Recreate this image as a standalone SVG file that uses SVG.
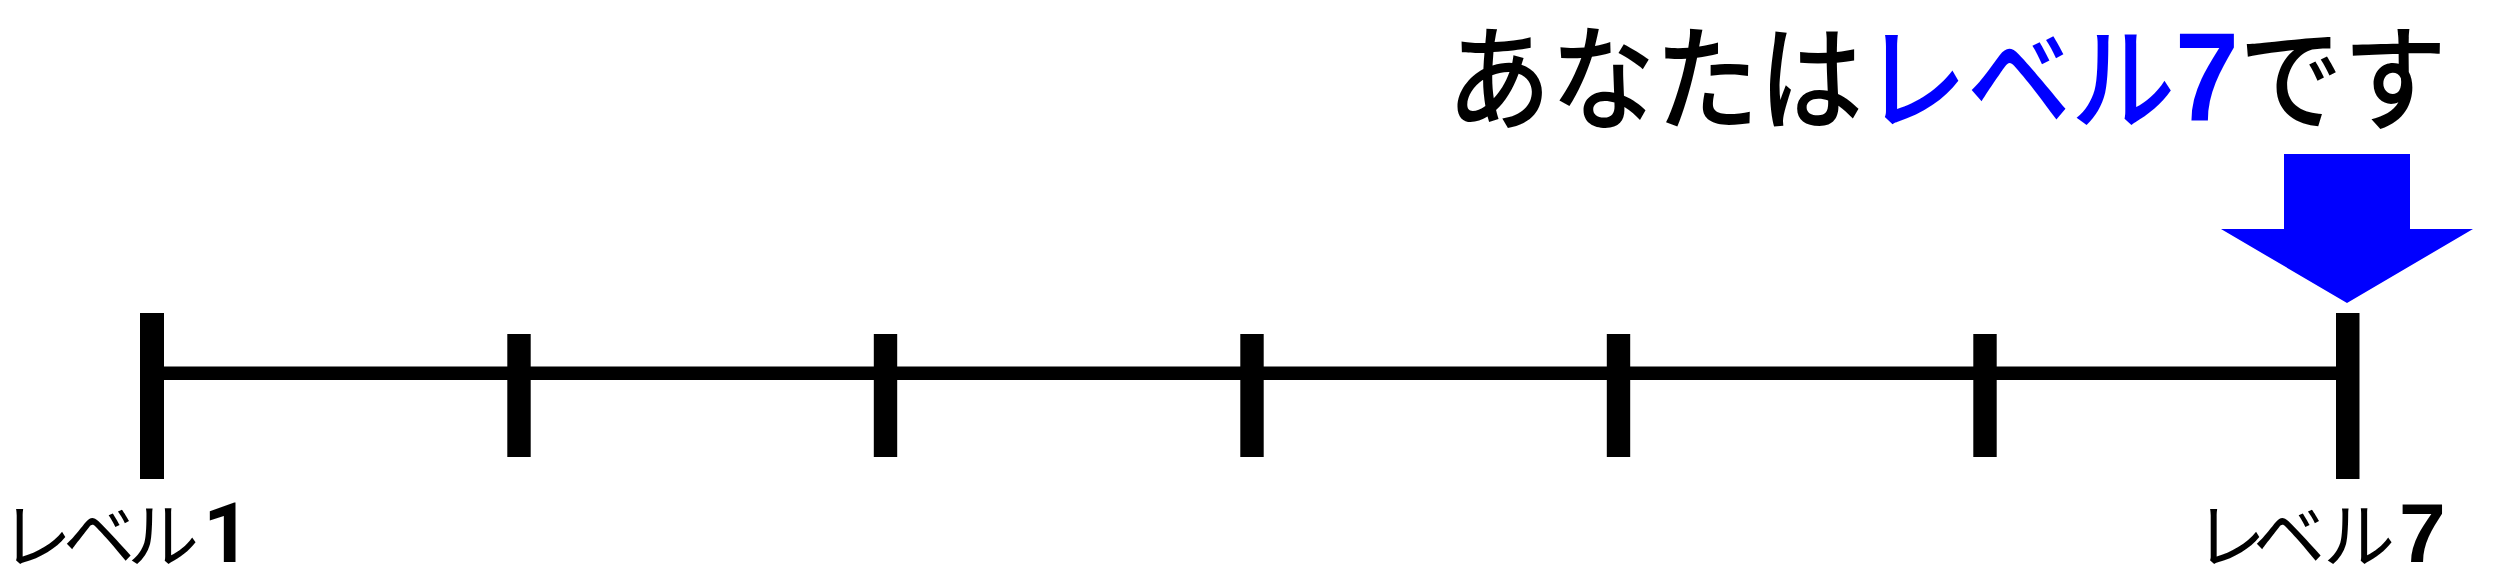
<svg xmlns="http://www.w3.org/2000/svg" width="2500" height="580" viewBox="0 0 2500 580">
  <style>
    .kana { font-family: "Noto Sans CJK JP", "Noto Sans", sans-serif; font-weight: 500; fill: #000; }
    .top { font-size: 104px; }
    .low { font-size: 72px; font-weight: 400; }
    .num { font-family: "Liberation Sans", Arial, sans-serif; font-weight: bold; }
    .one { font-family: Roboto, "Liberation Sans", sans-serif; font-weight: bold; }
    .blue { fill: #0000ff; }
    .bar { fill: #000; }
  </style>
  <rect width="2500" height="580" fill="#ffffff"/>
  <g id="connectors">
    <rect class="bar" x="164" y="366.5" width="2172" height="13.5"/>
  </g>
  <g id="tick1"><rect class="bar" x="140" y="313" width="24" height="166"/></g>
  <g id="tick2"><rect class="bar" x="507.3" y="334" width="23.4" height="123"/></g>
  <g id="tick3"><rect class="bar" x="873.8" y="334" width="23.4" height="123"/></g>
  <g id="tick4"><rect class="bar" x="1240.3" y="334" width="23.4" height="123"/></g>
  <g id="tick5"><rect class="bar" x="1606.8" y="334" width="23.4" height="123"/></g>
  <g id="tick6"><rect class="bar" x="1973.3" y="334" width="23.4" height="123"/></g>
  <g id="tick7"><rect class="bar" x="2336" y="313" width="23.5" height="166"/></g>
  <g id="label1">
    <text class="kana low" x="0 63 127" y="562">レベル<tspan class="one" x="203" font-size="83">1</tspan></text>
  </g>
  <g id="label7">
    <text class="kana low" x="2194 2253 2323" y="562">レベル<tspan class="num" x="2399" font-size="84">7</tspan></text>
  </g>
  <g id="message" transform="translate(0,121) scale(1,1.1)">
    <text class="kana top" x="1447" y="0">あなたは<tspan class="blue">レベル</tspan><tspan class="num blue" font-size="115">7</tspan>です</text>
  </g>
  <g id="arrow">
    <polygon fill="#0000ff" points="2284,154 2410,154 2410,229 2473,229 2347,303 2221,229 2284,229"/>
  </g>
</svg>
